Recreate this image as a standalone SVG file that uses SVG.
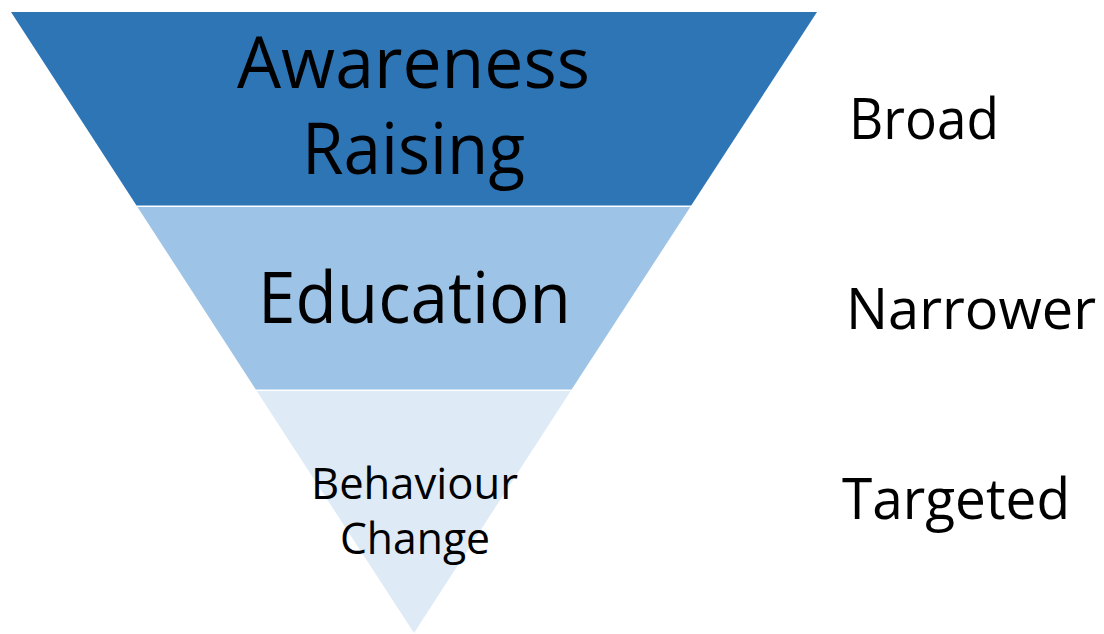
<svg xmlns="http://www.w3.org/2000/svg" width="1104" height="634" viewBox="0 0 1104 634">
<style>
.t{font-family:"Open Sans","Liberation Sans",sans-serif;fill:#000;}
.big{font-size:71px;}
.sm{font-size:43px;}
.lab{font-size:56px;}
</style>
<rect width="1104" height="634" fill="#fff"/>
<g id="band-awareness">
<polygon points="11,12 817,12 691.2,205.5 136.5,205.5" fill="#2E75B6"/>
<text class="t big" x="237" y="88" textLength="353" lengthAdjust="spacingAndGlyphs">Awareness</text>
<text class="t big" x="302" y="174" textLength="223" lengthAdjust="spacingAndGlyphs">Raising</text>
</g>
<g id="band-education">
<polygon points="137.5,207 690.3,207 571.6,389.5 255.8,389.5" fill="#9DC3E6"/>
<text class="t big" x="258" y="323" textLength="313" lengthAdjust="spacingAndGlyphs">Education</text>
</g>
<g id="band-behaviour">
<polygon points="256.7,391 570.7,391 414,633" fill="#DEEBF7"/>
<text class="t sm" x="311" y="499" textLength="207" lengthAdjust="spacingAndGlyphs">Behaviour</text>
<text class="t sm" x="340" y="554" textLength="150" lengthAdjust="spacingAndGlyphs">Change</text>
</g>
<g id="label-broad">
<text class="t lab" x="849" y="139" textLength="150" lengthAdjust="spacingAndGlyphs">Broad</text>
</g>
<g id="label-narrower">
<text class="t lab" x="846" y="329" textLength="250" lengthAdjust="spacingAndGlyphs">Narrower</text>
</g>
<g id="label-targeted">
<text class="t lab" x="842" y="519" textLength="228" lengthAdjust="spacingAndGlyphs">Targeted</text>
</g>
<g id="connectors"></g>
</svg>
